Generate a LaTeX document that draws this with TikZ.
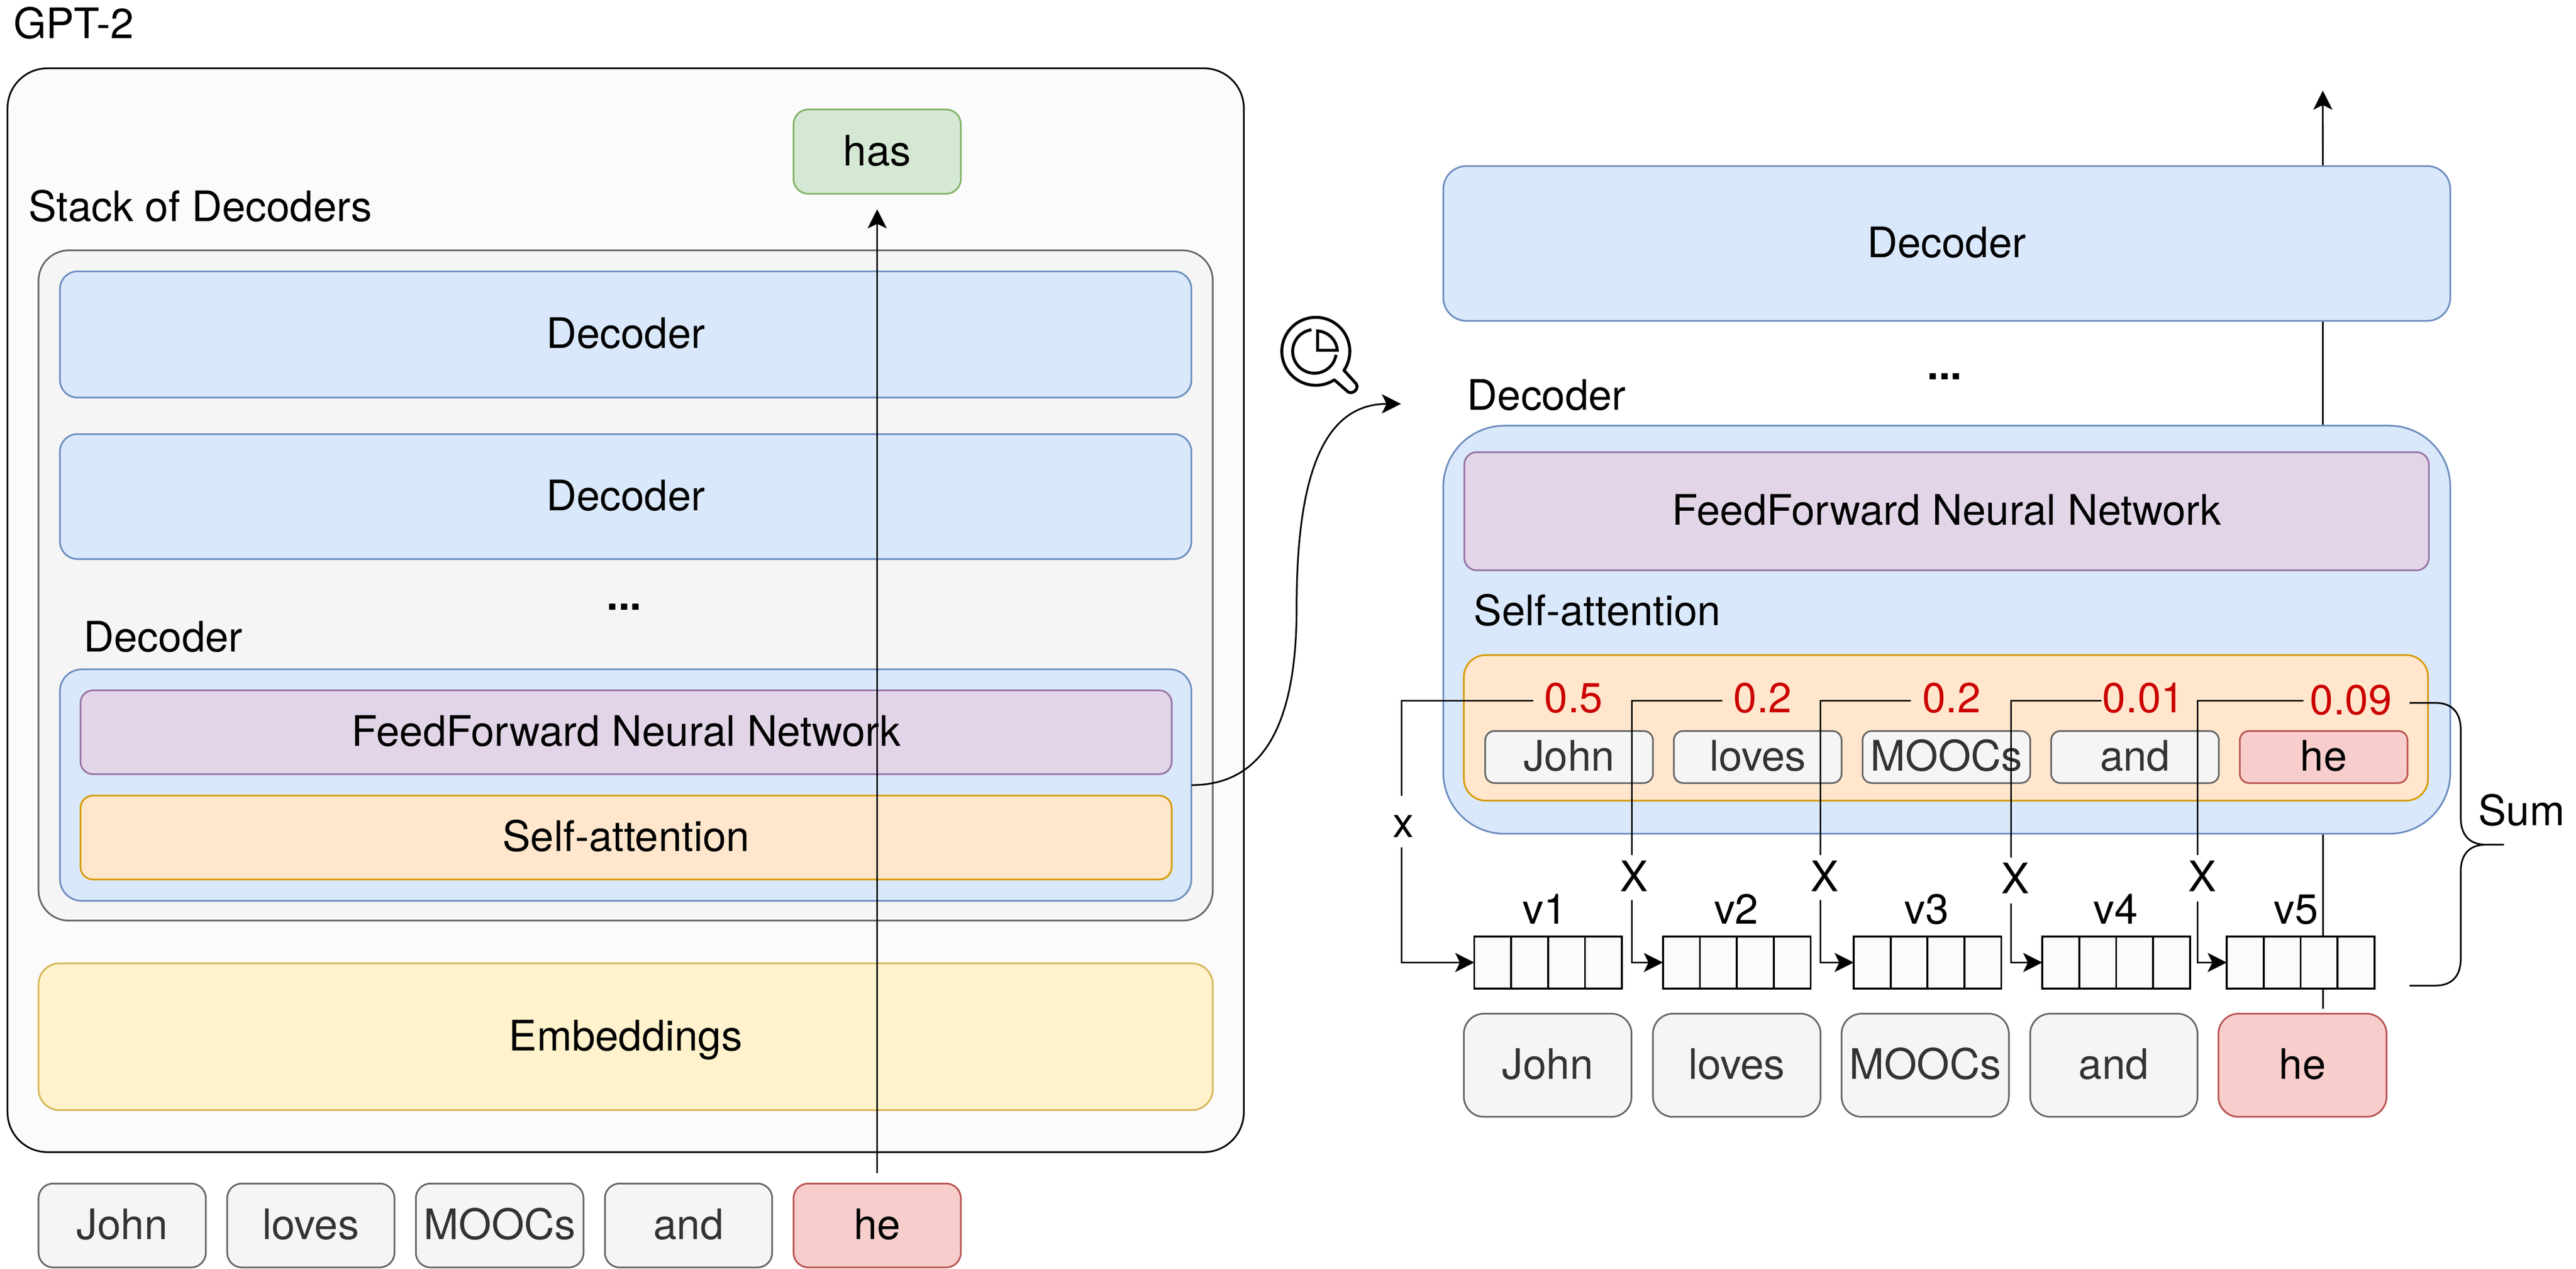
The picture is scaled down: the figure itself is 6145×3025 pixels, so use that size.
\documentclass[tikz,border=0pt]{standalone}
\usepackage{fontspec}
\setmainfont{TeX Gyre Heros}
\usetikzlibrary{arrows.meta}
\definecolor{cblueF}{HTML}{DAE8FC}\definecolor{cblueD}{HTML}{6C8EBF}
\definecolor{cpurF}{HTML}{E1D5E7}\definecolor{cpurD}{HTML}{9673A6}
\definecolor{corgF}{HTML}{FFE6CC}\definecolor{corgD}{HTML}{D79B00}
\definecolor{cyelF}{HTML}{FFF2CC}\definecolor{cyelD}{HTML}{D6B656}
\definecolor{cgryF}{HTML}{F5F5F5}\definecolor{cgryD}{HTML}{666666}\definecolor{cgryT}{HTML}{333333}
\definecolor{credF}{HTML}{F8CECC}\definecolor{credD}{HTML}{B85450}
\definecolor{cgrnF}{HTML}{D5E8D4}\definecolor{cgrnD}{HTML}{82B366}
\definecolor{cnum}{HTML}{CC0000}\definecolor{cpanel}{HTML}{FBFBFB}
\newcommand{\fntbase}{\fontsize{28.5}{33}\selectfont}
\tikzset{
  every node/.append style={font=\fntbase,inner sep=0pt,outer sep=0pt,text height=.66cm,text depth=0pt,anchor=center},
  bxbase/.style={draw,line width=1.14pt},
  sblue/.style={fill=cblueF,draw=cblueD},
  spur/.style={fill=cpurF,draw=cpurD},
  sorg/.style={fill=corgF,draw=corgD},
  syel/.style={fill=cyelF,draw=cyelD},
  sgry/.style={fill=cgryF,draw=cgryD,text=cgryT},
  sred/.style={fill=credF,draw=credD},
  sgrn/.style={fill=cgrnF,draw=cgrnD},
  spanel/.style={fill=cpanel,draw=black},
  sstack/.style={fill=cgryF,draw=cgryD},
  conn/.style={line width=1.14pt,draw=black},
  thinconn/.style={line width=1.14pt,draw=black},
  arr/.style={-{Stealth[length=13pt,width=13pt,inset=3.2pt]}},
  numlab/.style={text=cnum},
  cell/.style={line width=1.3pt,draw=black},
  iconline/.style={line width=2pt,draw=black,line join=round},
}
% name, style, x1, y1, x2, y2, radius, text
\newcommand{\bx}[8]{%
  \pgfmathsetmacro\mcx{(#3+#5)/2}\pgfmathsetmacro\mcy{(#4+#6)/2}%
  \pgfmathsetmacro\mwd{(#5-#3)*0.01}\pgfmathsetmacro\mht{(#6-#4)*0.01}\pgfmathsetmacro\mrd{#7*0.01}%
  \node[bxbase,#2,rounded corners=\mrd cm,minimum width=\mwd cm,minimum height=\mht cm] (#1) at (\mcx,\mcy) {#8};}
% name, x1 : vector of four cells
\newcommand{\vecbox}[2]{%
  \pgfmathsetmacro\mcx{#2+176}%
  \node[cell,fill=cpanel,minimum width=3.52cm,minimum height=1.24cm] (#1) at (\mcx,2295) {};
  \foreach \k in {-88,0,88}{\draw[cell] ([xshift=\k*0.01cm]#1.north) -- ([xshift=\k*0.01cm]#1.south);}}
\begin{document}
\begin{tikzpicture}[x=0.01cm,y=-0.01cm]
\useasboundingbox[fill=white] (0,0) rectangle (6145,3025);
% --- left panel ---
\node[anchor=west] (gpt) at (32,59) {GPT-2};
\bx{outer}{spanel}{18}{163}{2967}{2747}{95}{}
\bx{has}{sgrn}{1893}{261}{2292}{462}{35}{has}
\node[anchor=west] (stacklab) at (68,495) {Stack of Decoders};
\bx{stack}{sstack}{92}{597}{2893}{2195}{72}{}
\bx{dectop}{sblue}{143}{647}{2842}{948}{42}{Decoder}
\bx{decmid}{sblue}{143}{1035}{2842}{1333}{42}{Decoder}
\node[anchor=base] (ldots) at (1489,1455) {\textbf{...}};
\node[anchor=west] (declab) at (200,1521) {Decoder};
\bx{decl}{sblue}{143}{1596}{2842}{2148}{52}{}
\bx{ffl}{spur}{192}{1646}{2795}{1846}{30}{FeedForward Neural Network}
\bx{sal}{sorg}{192}{1897}{2795}{2097}{30}{Self-attention}
\bx{emb}{syel}{92}{2297}{2893}{2647}{50}{Embeddings}
\bx{wa}{sgry}{92}{2822}{491}{3022}{35}{John}
\bx{wb}{sgry}{542}{2822}{941}{3022}{35}{loves}
\bx{wc}{sgry}{992}{2822}{1392}{3022}{35}{MOOCs}
\bx{wd}{sgry}{1443}{2822}{1842}{3022}{35}{and}
\bx{we}{sred}{1893}{2822}{2292}{3022}{35}{he}
\draw[thinconn,arr,shorten <=.25cm,shorten >=.37cm] (we.north) -- (has.south);
% --- zoom icon and curve ---
\draw[iconline] (3206,883) arc[start angle=-34,end angle=303,radius=.81cm] -- (3214,933)
   .. controls (3224,943) and (3244,928) .. (3235,915) -- cycle;
\draw[iconline,line join=miter] (3187,846) arc[start angle=-9,end angle=-262,radius=.52cm];
\draw[iconline,line join=miter] (3143,789) -- (3143,835) -- (3190,835)
   .. controls (3188,810) and (3168,791) .. cycle;
\coordinate (curveend) at (3342,963);
\draw[conn,arr] (decl.east) .. controls (3000,1872) and (3093,1750) .. (3093,1450)
   .. controls (3093,1150) and (3150,963) .. (curveend);
% --- right panel ---
\coordinate (outtip) at (5541,216);
\bx{rhe}{sred}{5292}{2417}{5693}{2663}{48}{he}
\draw[conn,arr] ([xshift=.49cm,yshift=.12cm]rhe.north) -- (outtip);
\bx{rtop}{sblue}{3443}{396}{5845}{765}{55}{Decoder}
\node[anchor=base] (rdots) at (4639,905) {\textbf{...}};
\node[anchor=west] (rdeclab) at (3500,945) {Decoder};
\bx{rdec}{sblue}{3443}{1015}{5845}{1988}{146}{}
\bx{rff}{spur}{3493}{1078}{5794}{1360}{30}{FeedForward Neural Network}
\node[anchor=west] (rsalab) at (3516,1458) {Self-attention};
\bx{rsa}{sorg}{3492}{1562}{5792}{1909}{52}{}
\bx{ra}{sgry}{3543}{1743}{3943}{1867}{22}{John}
\bx{rb}{sgry}{3993}{1743}{4393}{1867}{22}{loves}
\bx{rc}{sgry}{4443}{1743}{4843}{1867}{22}{MOOCs}
\bx{rd}{sgry}{4893}{1743}{5293}{1867}{22}{and}
\bx{re}{sred}{5343}{1743}{5743}{1867}{22}{he}
\node[numlab] (na) at (3754,1666) {0.5};
\node[numlab] (nb) at (4205,1666) {0.2};
\node[numlab] (nc) at (4655,1666) {0.2};
\node[numlab] (nd) at (5113,1666) {0.01};
\node[numlab] (ne) at (5608,1671) {0.09};
\vecbox{va}{3517}
\vecbox{vb}{3967}
\vecbox{vc}{4422}
\vecbox{vd}{4872}
\vecbox{ve}{5312}
\node (vla) at (3685,2170) {v1};
\node (vlb) at (4142,2170) {v2};
\node (vlc) at (4596,2170) {v3};
\node (vld) at (5047,2170) {v4};
\node (vle) at (5477,2170) {v5};
\node (xa) at (3347,1963) {x};
\node (xb) at (3898,2093) {X};
\node (xc) at (4353,2093) {X};
\node (xd) at (4808,2097) {X};
\node (xe) at (5253,2093) {X};
\coordinate (aa) at (3343,1898); \coordinate (ba) at (3343,2020);
\coordinate (ab) at (3893,2039); \coordinate (bb) at (3893,2146);
\coordinate (ac) at (4343,2039); \coordinate (bc) at (4343,2146);
\coordinate (ad) at (4797,2045); \coordinate (bd) at (4797,2155);
\coordinate (ae) at (5242,2039); \coordinate (be) at (5242,2150);
\draw[conn] ([xshift=-.27cm,yshift=-.05cm]na.west) -| (aa);
\draw[conn] ([xshift=-.27cm,yshift=-.05cm]nb.west) -| (ab);
\draw[conn] ([xshift=-.27cm,yshift=-.05cm]nc.west) -| (ac);
\draw[conn] ([xshift=-.03cm,yshift=-.05cm]nd.west) -| (ad);
\draw[conn] ([xshift=-.16cm]ne.west) -| (ae);
\draw[conn,arr] (ba) |- (va.west);
\draw[conn,arr] (bb) |- (vb.west);
\draw[conn,arr] (bc) |- (vc.west);
\draw[conn,arr] (bd) |- (vd.west);
\draw[conn,arr] (be) |- (ve.west);
\bx{rwa}{sgry}{3492}{2417}{3892}{2663}{48}{John}
\bx{rwb}{sgry}{3943}{2417}{4343}{2663}{48}{loves}
\bx{rwc}{sgry}{4393}{2417}{4792}{2663}{48}{MOOCs}
\bx{rwd}{sgry}{4843}{2417}{5242}{2663}{48}{and}
% brace and its label
\draw[conn,line join=round] (5748,1676) -- (5810,1676) .. controls (5850,1676) and (5870,1700) .. (5870,1740)
  -- (5870,1950) .. controls (5870,1990) and (5890,2014) .. (5930,2014) -- (5972,2014) -- (5930,2014)
  .. controls (5890,2014) and (5870,2038) .. (5870,2078) -- (5870,2286)
  .. controls (5870,2326) and (5850,2350) .. (5810,2350) -- (5748,2350);
\node (sum) at (6015,1935) {Sum};
\end{tikzpicture}
\end{document}
